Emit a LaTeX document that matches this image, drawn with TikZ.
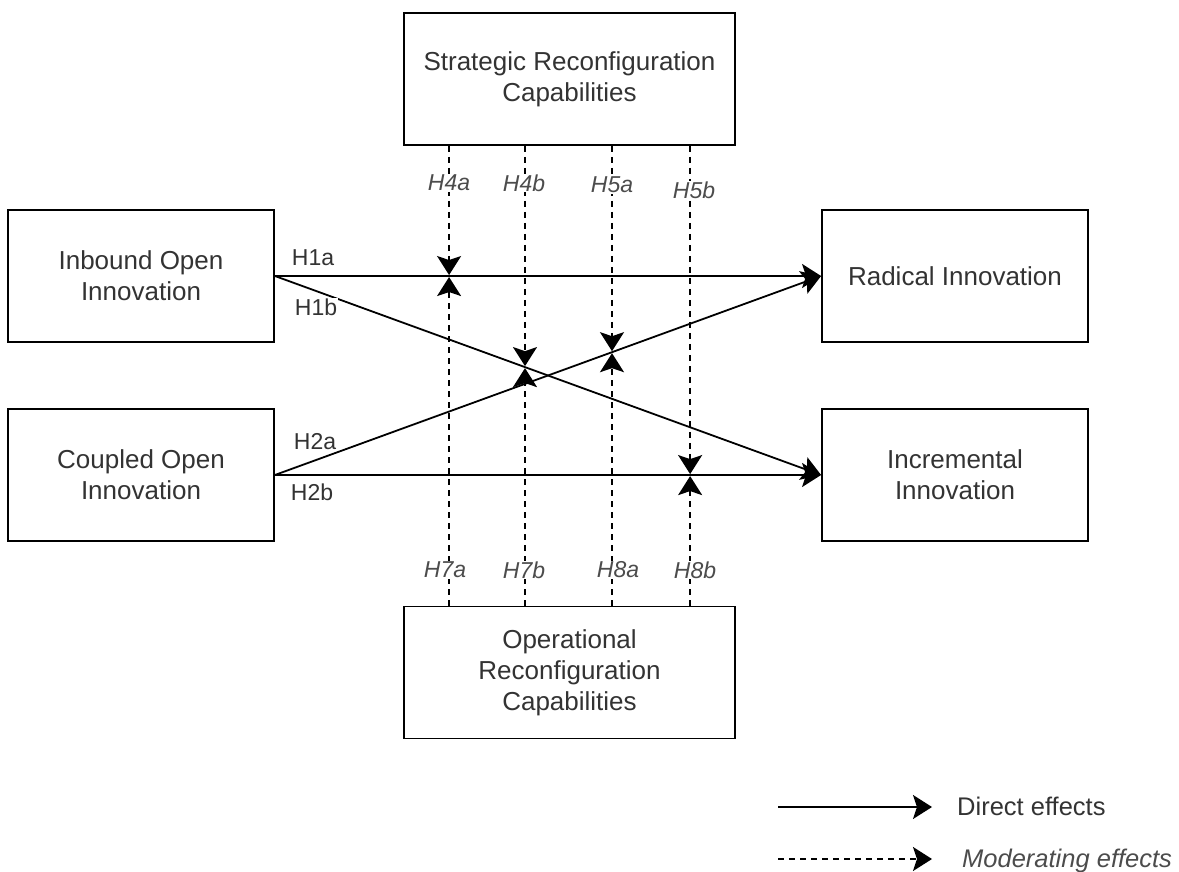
\documentclass[tikz,border=0pt]{standalone}
\usepackage{fontspec}
\setmainfont{Liberation Sans}
\usetikzlibrary{arrows.meta}
\tikzstyle{block} = [rectangle, draw, line width=1.8pt, text=black!80, align=center, minimum width=266pt, minimum height=132pt, font=\fontsize{26}{31}\selectfont]
\tikzstyle{hlab} = [fill=white, text=black!80, inner sep=1pt, font=\fontsize{23}{26}\selectfont]
\tikzstyle{mlab} = [fill=white, text=black!70, inner sep=1pt, font=\fontsize{23}{26}\selectfont\itshape]
\tikzset{direct/.style = {
    line width=1.8pt,
    -{Stealth[length=19pt, width=24pt, inset=4pt]},
  },
  moder/.style = {
    direct, dash pattern=on 6pt off 5pt, shorten >=1pt,
  }
}

\begin{document}
\begin{tikzpicture}[x=1pt, y=-1pt]
              \useasboundingbox (0,0) rectangle (1179,872);
              % vertices
              \node[block] (inb) at (141 , 276) {Inbound Open\\Innovation};
              \node[block] (cop) at (141 , 475) {Coupled Open\\Innovation};
              \node[block] (rad) at (955 , 276) {Radical Innovation};
              \node[block] (inc) at (955 , 475) {Incremental\\Innovation};
              \node[block, minimum width=331pt] (str) at (569.5 , 79) {Strategic Reconfiguration\\Capabilities};
              \node[block, minimum width=331pt] (ope) at (569.5 , 672.5) {Operational\\Reconfiguration\\Capabilities};

              % edges
              \draw[direct] (inb.east) to (rad.west);
              \draw[direct] (inb.east) to (inc.west);
              \draw[direct] (cop.east) to (rad.west);
              \draw[direct] (cop.east) to (inc.west);

              % moderators
              \coordinate (x4a) at (intersection of inb.east--rad.west and 449,0--449,1);
              \coordinate (x4b) at (intersection of inb.east--inc.west and 525,0--525,1);
              \coordinate (x5a) at (intersection of cop.east--rad.west and 612,0--612,1);
              \coordinate (x5b) at (intersection of cop.east--inc.west and 690,0--690,1);
              \foreach \p in {x4a, x4b, x5a, x5b} {
                \draw[moder] (str.south -| \p) to (\p);
                \draw[moder] (ope.north -| \p) to (\p);
              }

              % labels
              \node[hlab] (h1a) at (313 , 258) {H1a};
              \node[hlab] (h1b) at (316 , 307) {H1b};
              \node[hlab] (h2a) at (315 , 442) {H2a};
              \node[hlab] (h2b) at (312 , 492) {H2b};
              \node[mlab] (h4a) at (449 , 183) {H4a};
              \node[mlab] (h4b) at (524 , 183) {H4b};
              \node[mlab] (h5a) at (612 , 185) {H5a};
              \node[mlab] (h5b) at (694 , 190) {H5b};
              \node[mlab] (h7a) at (445 , 570) {H7a};
              \node[mlab] (h7b) at (524 , 570) {H7b};
              \node[mlab] (h8a) at (618 , 570) {H8a};
              \node[mlab] (h8b) at (695 , 570) {H8b};

              % legend
              \coordinate (ld1) at (778 , 807);
              \coordinate (ld2) at (932 , 807);
              \coordinate (lm1) at (778 , 859);
              \coordinate (lm2) at (932 , 859);
              \draw[direct] (ld1) to (ld2);
              \draw[direct, dash pattern=on 6pt off 5pt] (lm1) to (lm2);
              \node[anchor=base west, inner sep=0, text=black!80, font=\fontsize{25.5}{30}\selectfont] (ldt) at (957 , 815) {Direct effects};
              \node[anchor=base west, inner sep=0, text=black!70, font=\fontsize{25.5}{30}\selectfont\itshape] (lmt) at (962 , 867) {Moderating effects};
            \end{tikzpicture}
\end{document}
